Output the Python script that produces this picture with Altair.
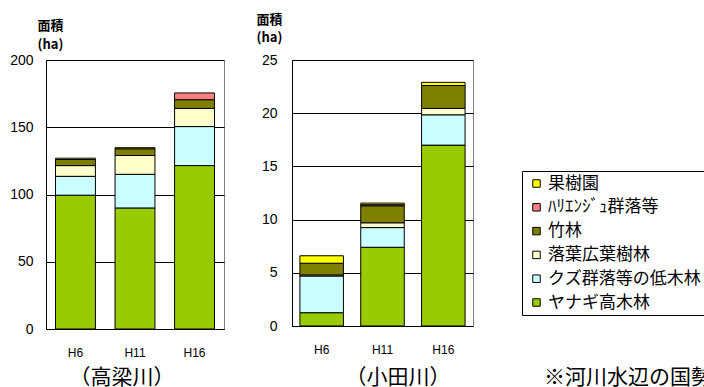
import altair as alt
import pandas as pd

years = ["H6", "H11", "H16"]
categories = ["ヤナギ高木林", "クズ群落等の低木林", "落葉広葉樹林", "竹林", "ﾊﾘｴﾝｼﾞｭ群落等", "果樹園"]
colors = ["#99CC00", "#CCFFFF", "#FFFFCC", "#808000", "#FF8080", "#FFFF00"]

# 高梁川 (ha)
tk_yanagi = [99.5, 90.0, 121.5]
tk_kuzu = [14.0, 25.0, 29.0]
tk_rakuyo = [8.0, 14.0, 13.5]
tk_take = [4.5, 5.0, 6.5]
tk_harienju = [0.0, 0.0, 5.0]
tk_kaju = [1.0, 0.8, 0.0]

# 小田川 (ha)
od_yanagi = [1.25, 7.4, 17.0]
od_kuzu = [3.45, 1.85, 2.85]
od_rakuyo = [0.1, 0.45, 0.6]
od_take = [1.1, 1.6, 2.15]
od_harienju = [0.0, 0.1, 0.0]
od_kaju = [0.7, 0.15, 0.3]

y_ticks_left = [0, 50, 100, 150, 200]
y_ticks_right = [0, 5, 10, 15, 20, 25]


def make_df(series):
    rows = []
    for idx, (cat, vals) in enumerate(zip(categories, series)):
        for yr, v in zip(years, vals):
            if v > 0:
                rows.append({"year": yr, "cat": cat, "value": v, "idx": idx})
    return pd.DataFrame(rows)


df_left = make_df([tk_yanagi, tk_kuzu, tk_rakuyo, tk_take, tk_harienju, tk_kaju])
df_right = make_df([od_yanagi, od_kuzu, od_rakuyo, od_take, od_harienju, od_kaju])

JP = "Noto Sans CJK JP"
LAT = "Liberation Sans"

color_enc = alt.Color(
    "cat:N",
    scale=alt.Scale(domain=categories[::-1], range=colors[::-1]),
    legend=alt.Legend(
        title=None,
        orient="none",
        legendX=476,
        legendY=111,
        direction="vertical",
        strokeColor="black",
        fillColor="white",
        padding=4,
        symbolType="square",
        symbolSize=56,
        symbolStrokeColor="black",
        symbolStrokeWidth=1,
        symbolOpacity=1,
        symbolOffset=2,
        labelFont=JP,
        labelFontSize=17,
        labelColor="black",
        labelOffset=3,
        labelLimit=300,
        rowPadding=5.8,
    ),
)


def panel(df, domain, ticks, width, height, pin, pout, lab_pad, tx, ty, lh):
    return alt.Chart(df).mark_bar(stroke="black", strokeWidth=1).encode(
        x=alt.X(
            "year:N",
            sort=years,
            scale=alt.Scale(paddingInner=pin, paddingOuter=pout),
            axis=alt.Axis(
                title=None, labelAngle=0, tickSize=0, labelPadding=18,
                labelFont=LAT, labelFontSize=12, labelColor="black",
                domainColor="black", grid=False,
            ),
        ),
        y=alt.Y(
            "value:Q",
            stack="zero",
            scale=alt.Scale(domain=domain, nice=False),
            axis=alt.Axis(
                values=ticks, tickSize=0, labelPadding=lab_pad,
                labelFont=LAT, labelFontSize=14, labelColor="black",
                domainColor="black", grid=True, gridColor="black",
                title=["面積", "(ha)"], titleAngle=0, titleAlign="center",
                titleBaseline="top", titleX=tx, titleY=ty, titleLineHeight=lh,
                titleFont=JP, titleFontSize=13, titleFontWeight="bold",
                titleColor="black",
            ),
        ),
        color=color_enc,
        order=alt.Order("idx:Q", sort="ascending"),
    ).properties(width=width, height=height)


left_bars = panel(df_left, [0, 200], y_ticks_left, 178, 269, 0.33, 0.16, 13, 4, -41, 19)
right_bars = panel(df_right, [0, 25], y_ticks_right, 181, 266, 0.285, 0.13, 15, -23, -47, 18)

note = alt.Data(values=[{"t": 1}])

left_label = alt.Chart(note).mark_text(
    font=JP, fontSize=21, color="black", align="center", baseline="middle"
).encode(x=alt.value(76), y=alt.value(318), text=alt.value("（高梁川）"))

right_label = alt.Chart(note).mark_text(
    font=JP, fontSize=21, color="black", align="center", baseline="middle"
).encode(x=alt.value(106), y=alt.value(318), text=alt.value("（小田川）"))

footnote = alt.Chart(note).mark_text(
    font=JP, fontSize=21, color="black", align="left", baseline="middle"
).encode(x=alt.value(252), y=alt.value(318), text=alt.value("※河川水辺の国勢調査結果より"))

top_note = alt.Chart(note).mark_text(
    font=JP, fontSize=20, color="black", align="right", baseline="alphabetic"
).encode(x=alt.value(410), y=alt.value(-63), text=alt.value("（単位：ha）"))

left = alt.layer(left_bars, left_label)
right = alt.layer(right_bars, right_label, footnote, top_note)

chart = alt.hconcat(left, right, spacing=68, bounds="flush").properties(
    padding={"left": 46, "top": 60, "right": 658, "bottom": 327},
    autosize=alt.AutoSizeParams(type="none"),
    background="white",
).configure_view(stroke="#808080")

chart.save("out.html", embed_options={"renderer": "svg", "actions": False})
